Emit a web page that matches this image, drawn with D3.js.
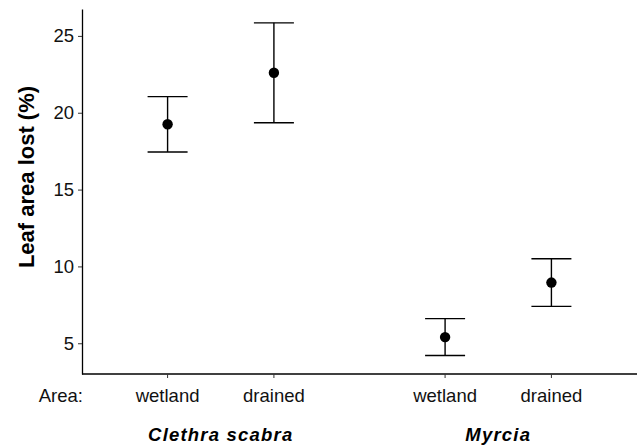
<!DOCTYPE html>
<html>
<head>
<meta charset="utf-8">
<script src="https://cdn.jsdelivr.net/npm/d3@7"></script>
<style>
  body { margin: 0; background: #fff; }
  svg { display: block; font-family: "Liberation Sans", Arial, sans-serif; }
</style>
</head>
<body>
<div id="chart"></div>
<script>
// species groups and area treatments
var species = ["Clethra scabra", "Myrcia"];
var areas = ["wetland", "drained"];

// mean leaf area lost (%) with interval limits, order: species x area
var means = [19.25, 22.6, 5.4, 8.95];
var lower = [17.45, 19.35, 4.2, 7.4];
var upper = [21.05, 25.85, 6.6, 10.5];

var yTicks = [5, 10, 15, 20, 25];

var width = 637, height = 448;
var margin = { top: 9, right: 0, bottom: 74, left: 82 };

var data = [];
species.forEach(function (s, i) {
    areas.forEach(function (a, j) {
        var k = i * areas.length + j;
        data.push({ species: s, area: a, mean: means[k], lo: lower[k], hi: upper[k] });
    });
});

var svg = d3.select("#chart")
    .append("svg")
    .attr("width", width)
    .attr("height", height);

var x0 = d3.scaleBand()
    .domain(species)
    .range([margin.left, width - margin.right])
    .padding(0);

var x1 = d3.scalePoint()
    .domain(areas)
    .range([0, x0.bandwidth()])
    .padding(0.805);

var y = d3.scaleLinear()
    .domain([3, 26.75])
    .range([height - margin.bottom, margin.top]);

function xpos(d) { return x0(d.species) + x1(d.area); }

// y axis
var yAxis = svg.append("g")
    .attr("transform", "translate(" + margin.left + ",0)")
    .call(d3.axisLeft(y).tickValues(yTicks).tickSize(4).tickPadding(4).tickSizeOuter(0));
yAxis.select(".domain").attr("stroke", "#000").attr("stroke-width", 1.3);
yAxis.selectAll(".tick line").attr("stroke", "#333").attr("stroke-width", 1);
yAxis.selectAll(".tick text")
    .attr("fill", "#111")
    .style("font-size", "18.5px");

// x axis: one tick per species/area pair
var xAxisG = svg.append("g")
    .attr("transform", "translate(0," + (height - margin.bottom) + ")");
xAxisG.append("line")
    .attr("x1", margin.left)
    .attr("x2", width - margin.right)
    .attr("stroke", "#000")
    .attr("stroke-width", 1.3);
xAxisG.selectAll(".xtick")
    .data(data)
    .enter()
    .append("line")
    .attr("x1", xpos)
    .attr("x2", xpos)
    .attr("y1", 0)
    .attr("y2", 4)
    .attr("stroke", "#333");
xAxisG.selectAll(".xlab")
    .data(data)
    .enter()
    .append("text")
    .attr("x", xpos)
    .attr("y", 28)
    .attr("text-anchor", "middle")
    .attr("fill", "#111")
    .style("font-size", "18.5px")
    .text(function (d) { return d.area; });

xAxisG.append("text")
    .attr("x", margin.left + 1)
    .attr("y", 28)
    .attr("text-anchor", "end")
    .attr("fill", "#111")
    .style("font-size", "18.5px")
    .text("Area:");

// species labels under each group
svg.selectAll(".grp")
    .data(species)
    .enter()
    .append("text")
    .attr("x", function (s) { return x0(s) + x0.bandwidth() / 2; })
    .attr("y", 441)
    .attr("text-anchor", "middle")
    .attr("fill", "#000")
    .style("font-size", "18.5px")
    .style("font-weight", "bold")
    .style("font-style", "italic")
    .style("letter-spacing", "1.2px")
    .text(function (s) { return s; });

// y axis title
svg.append("text")
    .attr("transform", "translate(34,177) rotate(-90)")
    .attr("text-anchor", "middle")
    .attr("fill", "#000")
    .style("font-size", "22px")
    .style("font-weight", "bold")
    .text("Leaf area lost (%)");

// error bars
var cap = 20;
var bars = svg.append("g").attr("stroke", "#000").attr("stroke-width", 1.4);
bars.selectAll(".v")
    .data(data)
    .enter()
    .append("line")
    .attr("x1", xpos).attr("x2", xpos)
    .attr("y1", function (d) { return y(d.lo); })
    .attr("y2", function (d) { return y(d.hi); });
bars.selectAll(".top")
    .data(data)
    .enter()
    .append("line")
    .attr("x1", function (d) { return xpos(d) - cap; })
    .attr("x2", function (d) { return xpos(d) + cap; })
    .attr("y1", function (d) { return y(d.hi); })
    .attr("y2", function (d) { return y(d.hi); });
bars.selectAll(".bot")
    .data(data)
    .enter()
    .append("line")
    .attr("x1", function (d) { return xpos(d) - cap; })
    .attr("x2", function (d) { return xpos(d) + cap; })
    .attr("y1", function (d) { return y(d.lo); })
    .attr("y2", function (d) { return y(d.lo); });

// mean points
svg.selectAll(".pt")
    .data(data)
    .enter()
    .append("circle")
    .attr("cx", xpos)
    .attr("cy", function (d) { return y(d.mean); })
    .attr("r", 5.2)
    .attr("fill", "#000");
</script>
</body>
</html>
